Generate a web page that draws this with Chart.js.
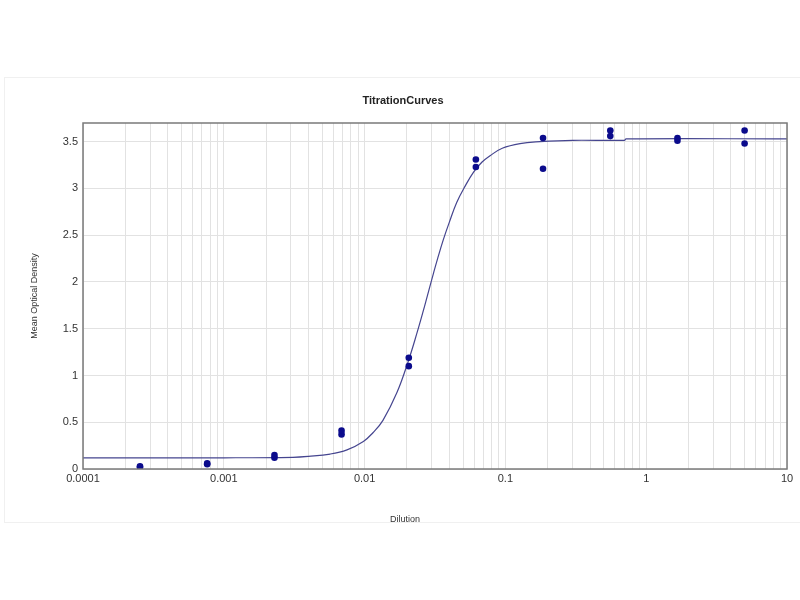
<!DOCTYPE html>
<html>
<head>
<meta charset="utf-8">
<title>TitrationCurves</title>
<script src="https://cdn.jsdelivr.net/npm/chart.js@4/dist/chart.umd.min.js"></script>
<style>
    html, body { margin: 0; padding: 0; background: #ffffff; }
    #wrap { width: 800px; height: 600px; position: relative; }
</style>
</head>
<body>
<div id="wrap"><canvas id="titration" width="800" height="600"></canvas></div>
<script>
// Measured replicates (3-fold dilution series)
const dilutions = [0.000254, 0.000762, 0.00229, 0.00686, 0.0206, 0.0617, 0.185, 0.556, 1.667, 5];
const replicateA = [0.02, 0.05, 0.12, 0.37, 1.10, 3.23, 3.54, 3.56, 3.51, 3.48];
const replicateB = [0.03, 0.06, 0.15, 0.41, 1.19, 3.31, 3.21, 3.62, 3.54, 3.62];

// Fitted curve
const curveX = [0.0001, 0.001, 0.0031, 0.004, 0.0057, 0.0075, 0.0098, 0.0115, 0.0135, 0.017,
                0.0204, 0.0235, 0.0261, 0.028, 0.0308, 0.033, 0.0362, 0.040, 0.0451, 0.052,
                0.0591, 0.068, 0.0778, 0.095, 0.127, 0.176, 0.3, 0.7, 0.72, 10];
const curveY = [0.12, 0.12, 0.125, 0.135, 0.16, 0.205, 0.295, 0.39, 0.52, 0.82,
                1.15, 1.45, 1.69, 1.86, 2.09, 2.25, 2.45, 2.64, 2.85, 3.03,
                3.17, 3.28, 3.35, 3.43, 3.48, 3.50, 3.515, 3.515, 3.53, 3.53];

// Axis ticks
const xTickValues = [0.0001, 0.001, 0.01, 0.1, 1, 10];
const xTickLabels = ['0.0001', '0.001', '0.01', '0.1', '1', '10'];
const yTickValues = [0, 0.5, 1, 1.5, 2, 2.5, 3, 3.5];
const yTickLabels = ['0', '0.5', '1', '1.5', '2', '2.5', '3', '3.5'];
const xTitle = 'Dilution';

const points = [];
dilutions.forEach((d, i) => {
    points.push({ x: d, y: replicateA[i] });
    points.push({ x: d, y: replicateB[i] });
});
const curve = curveX.map((x, i) => ({ x: x, y: curveY[i] }));

const FONT = 'Arial, "Liberation Sans", sans-serif';

// Plot frame, faint picture border, x axis title
const framePlugin = {
    id: 'frame',
    beforeDraw(chart) {
        const ctx = chart.ctx;
        ctx.save();
        ctx.strokeStyle = '#f0f0f0';
        ctx.lineWidth = 1;
        ctx.strokeRect(4.5, 77.5, 800, 445);
        ctx.restore();
    },
    afterDatasetsDraw(chart) {
        const a = chart.chartArea;
        const ctx = chart.ctx;
        ctx.save();
        ctx.strokeStyle = '#7a7a7a';
        ctx.lineWidth = 1.5;
        ctx.strokeRect(a.left, a.top, a.right - a.left, a.bottom - a.top);
        ctx.fillStyle = '#333';
        ctx.font = '9px ' + FONT;
        ctx.textAlign = 'center';
        ctx.textBaseline = 'middle';
        ctx.fillText(xTitle, 405, 520);
        ctx.restore();
    }
};

const ctx = document.getElementById('titration').getContext('2d');
new Chart(ctx, {
    type: 'scatter',
    data: {
        datasets: [
            {
                label: 'Replicates',
                data: points,
                pointRadius: 3.3,
                pointBackgroundColor: '#0b0b8c',
                pointBorderColor: '#0b0b8c',
                pointBorderWidth: 0,
                order: 1
            },
            {
                label: 'Fit',
                type: 'line',
                data: curve,
                borderColor: '#45458f',
                borderWidth: 1.2,
                pointRadius: 0,
                tension: 0.4,
                fill: false,
                order: 2
            }
        ]
    },
    options: {
        responsive: false,
        animation: false,
        layout: { padding: { left: 6, right: 0, top: 0, bottom: 0 } },
        plugins: {
            legend: { display: false },
            tooltip: { enabled: false },
            title: {
                display: true,
                text: 'TitrationCurves',
                color: '#222',
                font: { family: FONT, size: 11, weight: 'bold' },
                padding: { top: 94, bottom: 15.8 }
            }
        },
        scales: {
            x: {
                type: 'logarithmic',
                min: 0.0001,
                max: 10,
                afterFit: function(scale) { scale.height = 131; },
                afterBuildTicks: function(scale) {
                    const ticks = [];
                    for (let d = 0; d < xTickValues.length - 1; d++) {
                        for (let m = 1; m < 10; m++) {
                            ticks.push({ value: xTickValues[d] * m });
                        }
                    }
                    ticks.push({ value: xTickValues[xTickValues.length - 1] });
                    scale.ticks = ticks;
                },
                ticks: {
                    autoSkip: false,
                    maxRotation: 0,
                    padding: 3,
                    color: '#333',
                    font: { family: FONT, size: 11 },
                    callback: function(value) {
                        for (let i = 0; i < xTickValues.length; i++) {
                            if (Math.abs(value / xTickValues[i] - 1) < 1e-6) return xTickLabels[i];
                        }
                        return '';
                    }
                },
                grid: { color: '#e2e2e2', lineWidth: 1, drawTicks: false },
                border: { display: false }
            },
            y: {
                min: 0,
                max: 3.7,
                afterFit: function(scale) { scale.width = 77; },
                afterBuildTicks: function(scale) {
                    scale.ticks = yTickValues.map(v => ({ value: v }));
                },
                ticks: {
                    padding: 5,
                    color: '#333',
                    font: { family: FONT, size: 11 },
                    callback: function(value) {
                        const i = yTickValues.indexOf(value);
                        return i >= 0 ? yTickLabels[i] : '';
                    }
                },
                grid: { color: '#e2e2e2', lineWidth: 1, drawTicks: false },
                border: { display: false },
                title: {
                    display: true,
                    text: 'Mean Optical Density',
                    color: '#333',
                    font: { family: FONT, size: 9 },
                    padding: { top: 23.6, bottom: 0 }
                }
            },
            // empty strip on the right to leave a margin beside the plot
            yRight: {
                position: 'right',
                display: true,
                min: 0,
                max: 3.7,
                afterFit: function(scale) { scale.width = 13; },
                ticks: { display: false },
                grid: { display: false, drawTicks: false },
                border: { display: false }
            }
        }
    },
    plugins: [framePlugin]
});
</script>
</body>
</html>
